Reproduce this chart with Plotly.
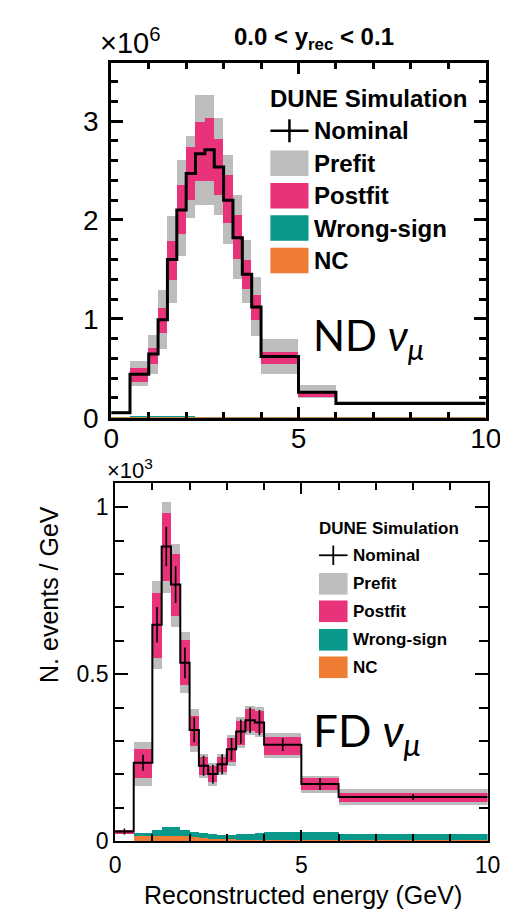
import plotly.graph_objects as go

# ---------------- data ----------------
bin_edges = [0, 0.5, 1.0, 1.25, 1.5, 1.75, 2.0, 2.25, 2.5, 2.75, 3.0, 3.25, 3.5, 3.75, 4.0, 5.0, 6.0, 10.0]

# ND numu (x10^6 events / GeV)
nd_nominal = [0.05, 0.44, 0.645, 0.99, 1.60, 2.10, 2.47, 2.67, 2.71, 2.535, 2.20, 1.82, 1.45, 1.12, 0.62, 0.257, 0.145]
nd_prefit_lo = [0.035, 0.32, 0.44, 0.69, 1.16, 1.64, 2.02, 2.15, 2.15, 2.05, 1.76, 1.40, 1.16, 0.83, 0.44, 0.197, 0.125]
nd_prefit_hi = [0.065, 0.57, 0.84, 1.29, 2.04, 2.61, 2.85, 3.26, 3.26, 3.03, 2.66, 2.25, 1.80, 1.425, 0.794, 0.33, 0.165]
nd_postfit_lo = [0.04, 0.36, 0.54, 0.86, 1.39, 1.86, 2.20, 2.39, 2.39, 2.25, 1.97, 1.60, 1.30, 0.99, 0.545, 0.214, 0.135]
nd_postfit_hi = [0.06, 0.50, 0.70, 1.11, 1.79, 2.35, 2.74, 2.99, 3.03, 2.82, 2.45, 2.05, 1.59, 1.24, 0.66, 0.27, 0.155]
nd_wrongsign = [0.003, 0.012, 0.009, 0.009, 0.008, 0.008, 0.008, 0.007, 0.007, 0.006, 0.005, 0.005, 0.004, 0.004, 0.003, 0.002, 0.001]
nd_nc = [0.001, 0.004, 0.004, 0.004, 0.003, 0.003, 0.003, 0.003, 0.003, 0.002, 0.002, 0.002, 0.002, 0.001, 0.001, 0.001, 0.0005]

# FD numu (x10^3 events / GeV)
fd_nominal = [0.029, 0.235, 0.648, 0.882, 0.768, 0.534, 0.333, 0.226, 0.201, 0.230, 0.275, 0.328, 0.362, 0.355, 0.289, 0.171, 0.132]
fd_stat_err = [0.009, 0.024, 0.053, 0.059, 0.055, 0.046, 0.037, 0.030, 0.028, 0.030, 0.033, 0.036, 0.038, 0.038, 0.019, 0.018, 0.009]
fd_prefit_lo = [0.022, 0.166, 0.516, 0.745, 0.642, 0.446, 0.269, 0.191, 0.166, 0.200, 0.225, 0.279, 0.319, 0.314, 0.250, 0.147, 0.111]
fd_prefit_hi = [0.036, 0.299, 0.779, 1.016, 0.892, 0.627, 0.397, 0.262, 0.235, 0.262, 0.319, 0.372, 0.407, 0.402, 0.326, 0.196, 0.157]
fd_postfit_lo = [0.024, 0.191, 0.549, 0.779, 0.676, 0.470, 0.287, 0.200, 0.178, 0.207, 0.238, 0.290, 0.330, 0.325, 0.260, 0.154, 0.118]
fd_postfit_hi = [0.034, 0.276, 0.745, 0.985, 0.860, 0.603, 0.377, 0.252, 0.225, 0.253, 0.310, 0.362, 0.396, 0.390, 0.314, 0.189, 0.147]
fd_wrongsign = [0.001, 0.026, 0.036, 0.044, 0.044, 0.036, 0.030, 0.026, 0.023, 0.020, 0.020, 0.022, 0.024, 0.026, 0.030, 0.029, 0.022]
fd_nc = [0.001, 0.018, 0.018, 0.018, 0.017, 0.016, 0.013, 0.011, 0.009, 0.008, 0.007, 0.006, 0.005, 0.005, 0.004, 0.003, 0.002]

legend_labels = ["Nominal", "Prefit", "Postfit", "Wrong-sign", "NC"]

# ---------------- style ----------------
W, H = 508, 916
GRAY = "#bdbdbd"
PINK = "#e8337a"
TEAL = "#08998a"
ORANGE = "#ee7d33"
FONT = "Liberation Sans, Arial, Helvetica, sans-serif"
BIGFONT = "Lato, Open Sans, sans-serif"


def pxx(x):
    return x / W


def pxy(y):
    return 1 - y / H


centers = [(bin_edges[i] + bin_edges[i + 1]) / 2 for i in range(len(bin_edges) - 1)]
widths = [bin_edges[i + 1] - bin_edges[i] for i in range(len(bin_edges) - 1)]

fig = go.Figure()


def add_panel(xa, ya, nominal, pre_lo, pre_hi, post_lo, post_hi, ws, nc, err, lw):
    fig.add_trace(go.Bar(x=centers, y=[h - l for l, h in zip(pre_lo, pre_hi)], base=pre_lo,
                         width=widths, marker=dict(color=GRAY, line=dict(width=0)),
                         xaxis=xa, yaxis=ya, showlegend=False, hoverinfo="skip"))
    fig.add_trace(go.Bar(x=centers, y=[h - l for l, h in zip(post_lo, post_hi)], base=post_lo,
                         width=widths, marker=dict(color=PINK, line=dict(width=0)),
                         xaxis=xa, yaxis=ya, showlegend=False, hoverinfo="skip"))
    fig.add_trace(go.Bar(x=centers, y=ws, width=widths, marker=dict(color=TEAL, line=dict(width=0)),
                         xaxis=xa, yaxis=ya, showlegend=False, hoverinfo="skip"))
    fig.add_trace(go.Bar(x=centers, y=nc, width=widths, marker=dict(color=ORANGE, line=dict(width=0)),
                         xaxis=xa, yaxis=ya, showlegend=False, hoverinfo="skip"))
    fig.add_trace(go.Scatter(x=bin_edges, y=nominal + [nominal[-1]], mode="lines",
                             line=dict(color="black", width=lw, shape="hv"),
                             xaxis=xa, yaxis=ya, showlegend=False, hoverinfo="skip"))
    if err is not None:
        fig.add_trace(go.Scatter(x=centers, y=nominal, mode="markers",
                                 marker=dict(size=1, color="black"),
                                 error_y=dict(type="data", array=err, width=0, thickness=1.6, color="black"),
                                 xaxis=xa, yaxis=ya, showlegend=False, hoverinfo="skip"))


add_panel("x", "y", nd_nominal, nd_prefit_lo, nd_prefit_hi, nd_postfit_lo, nd_postfit_hi,
          nd_wrongsign, nd_nc, None, 3)
add_panel("x2", "y2", fd_nominal, fd_prefit_lo, fd_prefit_hi, fd_postfit_lo, fd_postfit_hi,
          fd_wrongsign, fd_nc, fd_stat_err, 2)


def axis(domain, rng, dtick, mdtick, lw, tlen, mlen, fsize, anchor, **kw):
    d = dict(domain=domain, range=rng, dtick=dtick, tick0=0, showgrid=False, zeroline=False,
             showline=True, linecolor="black", linewidth=lw, mirror="allticks",
             ticks="inside", ticklen=tlen, tickwidth=lw, tickcolor="black",
             minor=dict(dtick=mdtick, ticks="inside", ticklen=mlen, tickwidth=lw, tickcolor="black", showgrid=False),
             tickfont=dict(family=FONT, size=fsize, color="black"), anchor=anchor, fixedrange=True)
    d.update(kw)
    return d


fig.update_layout(
    width=W, height=H, margin=dict(l=0, r=0, t=0, b=0),
    paper_bgcolor="white", plot_bgcolor="white", barmode="overlay", bargap=0,
    showlegend=False,
    xaxis=axis([pxx(100), pxx(493)], [0, 10], 5, 1, 3, 11, 6, 28, "y", ticklabelstandoff=-6),
    yaxis=axis([pxy(417), pxy(56)], [0, 3.587], 1, 0.2, 3, 12, 7, 28, "x", ticklabelstandoff=4),
    xaxis2=axis([pxx(104), pxx(495)], [0, 10], 5, 1, 2, 11, 7, 23, "y2", ticklabelstandoff=2),
    yaxis2=axis([pxy(848), pxy(483)], [0, 1.0735], 0.5, 0.1, 2, 13, 9, 23, "x2"),
)

ann = []
shapes = []

# axis titles
ann.append(dict(text="Reconstructed energy (GeV)", x=pxx(301), y=pxy(903), xanchor="center", yanchor="middle",
                font=dict(family=FONT, size=25, color="black")))
ann.append(dict(text="N. events / GeV", x=pxx(34), y=pxy(597), xanchor="center", yanchor="middle",
                textangle=-90, font=dict(family=FONT, size=25, color="black")))

# exponent labels and title
ann.append(dict(text="×10<sup>6</sup>", x=pxx(86), y=pxy(54), xanchor="left", yanchor="bottom",
                font=dict(family=FONT, size=29, color="black")))
ann.append(dict(text="×10<sup>3</sup>", x=pxx(93), y=pxy(485), xanchor="left", yanchor="bottom",
                font=dict(family=FONT, size=22, color="black")))
ann.append(dict(text="<b>0.0 &lt; y<sub>rec</sub> &lt; 0.1</b>", x=pxx(313), y=pxy(31), xanchor="center",
                yanchor="middle", font=dict(family=FONT, size=24, color="black")))

# big labels
ann.append(dict(text="ND <i>ν</i><sub><i>μ</i></sub>", x=pxx(310), y=pxy(336), xanchor="left", yanchor="middle",
                font=dict(family=BIGFONT, size=42, color="black")))
ann.append(dict(text="FD <i>ν</i><sub><i>μ</i></sub>", x=pxx(310), y=pxy(738), xanchor="left", yanchor="middle",
                font=dict(family=BIGFONT, size=44, color="black")))


def legend(x0, box_w, box_h, head_y, rows_y, text_x, fsize, lw):
    ann.append(dict(text="<b>DUNE Simulation</b>", x=pxx(x0 - 2), y=pxy(head_y), xanchor="left",
                    yanchor="middle", font=dict(family=FONT, size=fsize, color="black")))
    colors = [None, GRAY, PINK, TEAL, ORANGE]
    for lab, col, ry in zip(legend_labels, colors, rows_y):
        if col is None:
            shapes.append(dict(type="line", xref="paper", yref="paper", x0=pxx(x0), x1=pxx(x0 + box_w),
                               y0=pxy(ry), y1=pxy(ry), line=dict(color="black", width=lw)))
            shapes.append(dict(type="line", xref="paper", yref="paper", x0=pxx(x0 + box_w / 2),
                               x1=pxx(x0 + box_w / 2), y0=pxy(ry - box_h * 0.45), y1=pxy(ry + box_h * 0.45),
                               line=dict(color="black", width=lw)))
        else:
            shapes.append(dict(type="rect", xref="paper", yref="paper", x0=pxx(x0), x1=pxx(x0 + box_w),
                               y0=pxy(ry - box_h / 2), y1=pxy(ry + box_h / 2),
                               fillcolor=col, line=dict(width=0)))
        ann.append(dict(text="<b>%s</b>" % lab, x=pxx(text_x), y=pxy(ry), xanchor="left", yanchor="middle",
                        font=dict(family=FONT, size=fsize, color="black")))


legend(267, 40, 26, 92, [125, 158, 191, 224, 257], 311, 24, 2.5)
legend(318, 30, 22, 530, [557, 586, 614, 643, 671], 352, 17, 1.8)

for a in ann:
    a.setdefault("xref", "paper")
    a.setdefault("yref", "paper")
    a.setdefault("showarrow", False)
fig.update_layout(annotations=ann, shapes=shapes)

fig.write_html("out.html")
